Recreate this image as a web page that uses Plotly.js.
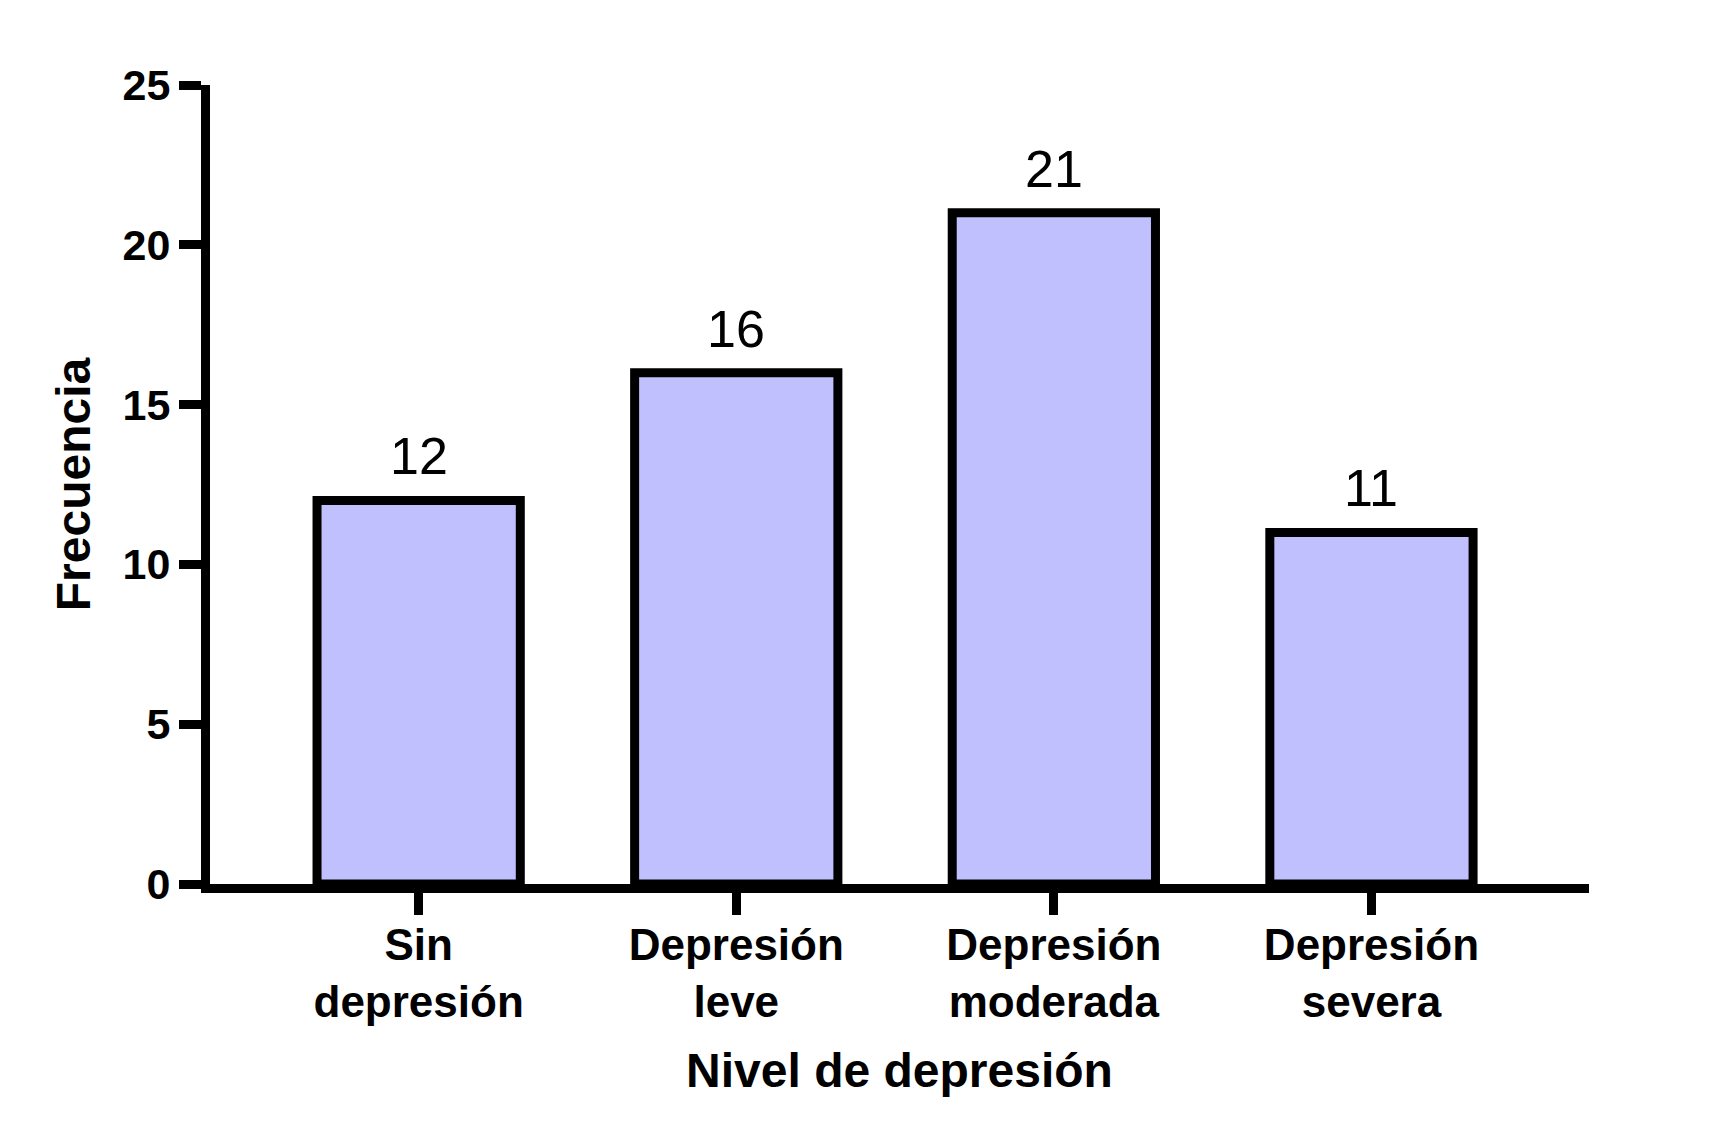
<!DOCTYPE html>
<html>
<head>
<meta charset="utf-8">
<script src="https://cdn.plot.ly/plotly-3.0.1.min.js"></script>
<style>
  html, body { margin: 0; padding: 0; background: #ffffff; }
  #chart { width: 1723px; height: 1142px; }
</style>
</head>
<body>
<div id="chart"></div>
<script>
// ---- Data ----
const categories = ["Sin depresión", "Depresión leve", "Depresión moderada", "Depresión severa"];
const tickLabels = ["Sin<br>depresión", "Depresión<br>leve", "Depresión<br>moderada", "Depresión<br>severa"];
const frequencies = [12, 16, 21, 11];
const yTickVals = [0, 5, 10, 15, 20, 25];

const xTitle = "Nivel de depresión";
const yTitle = "Frecuencia";

// ---- Styles ----
const FONT = "Liberation Sans, Arial, Helvetica, sans-serif";
const barFill = "#c1c0ff";
const ink = "#000000";
const LW = 9;

const trace = {
  type: "bar",
  x: categories,
  y: frequencies,
  width: 0.64,
  marker: { color: barFill, line: { color: ink, width: LW } },
  hoverinfo: "x+y",
  showlegend: false
};

const annotations = categories.map((c, i) => ({
  x: c,
  y: frequencies[i],
  xref: "x",
  yref: "y",
  text: String(frequencies[i]),
  showarrow: false,
  yanchor: "bottom",
  yshift: 13,
  font: { family: FONT, size: 52, color: ink }
}));

const layout = {
  width: 1723,
  height: 1142,
  paper_bgcolor: "#ffffff",
  plot_bgcolor: "#ffffff",
  margin: { l: 210, r: 134, t: 85, b: 258 },
  font: { family: FONT, color: ink },
  bargap: 0.36,
  xaxis: {
    type: "category",
    categoryorder: "array",
    categoryarray: categories,
    tickmode: "array",
    tickvals: categories,
    ticktext: tickLabels,
    range: [-0.657, 3.685],
    showline: true,
    linecolor: ink,
    linewidth: LW,
    ticks: "outside",
    ticklen: 22,
    tickwidth: LW,
    tickcolor: ink,
    ticklabelstandoff: -8,
    showgrid: false,
    zeroline: false,
    tickfont: { family: FONT, size: 44, color: ink, weight: "bold" },
    title: { text: "<b>" + xTitle + "</b>", font: { family: FONT, size: 48, color: ink }, standoff: 32 },
    fixedrange: true
  },
  yaxis: {
    range: [0, 25],
    tickmode: "array",
    tickvals: yTickVals,
    showline: true,
    linecolor: ink,
    linewidth: LW,
    ticks: "outside",
    ticklen: 22,
    tickwidth: LW,
    tickcolor: ink,
    showgrid: false,
    zeroline: false,
    tickfont: { family: FONT, size: 43, color: ink, weight: "bold" },
    title: { text: "<b>" + yTitle + "</b>", font: { family: FONT, size: 48, color: ink }, standoff: 20 },
    fixedrange: true
  },
  annotations: annotations
};

Plotly.newPlot("chart", [trace], layout, { displayModeBar: false, staticPlot: true });
</script>
</body>
</html>
